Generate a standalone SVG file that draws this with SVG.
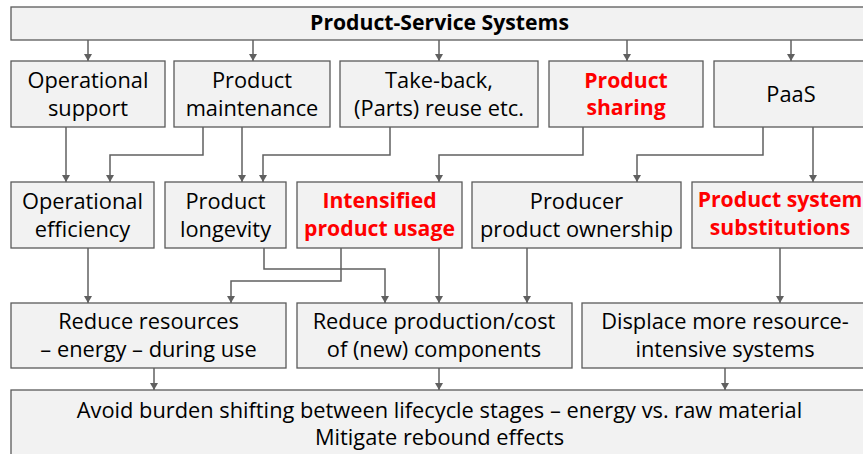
<svg xmlns="http://www.w3.org/2000/svg" width="863" height="454" viewBox="0 0 863 454">
<defs>
<marker id="ah" markerUnits="userSpaceOnUse" markerWidth="10" markerHeight="10" refX="7" refY="4" orient="auto">
<path d="M0,0 L7,4 L0,8 z" fill="#606060"/>
</marker>
<style>
.box{fill:#f2f2f2;stroke:#5a5a5a;stroke-width:1.3}
.t{font-family:"Open Sans","Noto Sans","DejaVu Sans",sans-serif;font-size:21.8px;fill:#000;text-anchor:middle}
.b{font-weight:bold;font-size:21.2px}
.r{fill:#ff0000;font-weight:bold;font-size:21.2px}
.c{fill:none;stroke:#606060;stroke-width:1.5;marker-end:url(#ah)}
</style>
</defs>
<g id="n-pss"><rect class="box" x="11" y="7" width="857" height="33"/><text class="t b" x="439.5" y="30">Product-Service Systems</text></g>
<g id="n-opsupport"><rect class="box" x="11" y="61" width="154" height="66"/><text class="t" x="88" y="88">Operational</text><text class="t" x="88" y="116">support</text></g>
<g id="n-maint"><rect class="box" x="174" y="61" width="156" height="66"/><text class="t" x="252" y="88">Product</text><text class="t" x="252" y="116">maintenance</text></g>
<g id="n-takeback"><rect class="box" x="340" y="61" width="198" height="66"/><text class="t" x="439" y="88">Take-back,</text><text class="t" x="439" y="116">(Parts) reuse etc.</text></g>
<g id="n-sharing"><rect class="box" x="549" y="61" width="154" height="66"/><text class="t r" x="626" y="88">Product</text><text class="t r" x="626" y="115">sharing</text></g>
<g id="n-paas"><rect class="box" x="714" y="61" width="154" height="66"/><text class="t" x="791" y="102">PaaS</text></g>
<g id="n-opeff"><rect class="box" x="11" y="182" width="143" height="66"/><text class="t" x="82.5" y="209">Operational</text><text class="t" x="82.5" y="237">efficiency</text></g>
<g id="n-longevity"><rect class="box" x="165" y="182" width="121" height="66"/><text class="t" x="225.5" y="209">Product</text><text class="t" x="225.5" y="237">longevity</text></g>
<g id="n-intens"><rect class="box" x="297" y="182" width="165" height="66"/><text class="t r" x="379.5" y="208">Intensified</text><text class="t r" x="379.5" y="236">product usage</text></g>
<g id="n-owner"><rect class="box" x="472" y="182" width="209" height="66"/><text class="t" x="576.5" y="209">Producer</text><text class="t" x="576.5" y="237">product ownership</text></g>
<g id="n-subst"><rect class="box" x="692" y="182" width="176" height="66"/><text class="t r" x="780" y="207">Product system</text><text class="t r" x="780" y="235">substitutions</text></g>
<g id="n-reduce"><rect class="box" x="11" y="303" width="275" height="65"/><text class="t" x="148.5" y="329">Reduce resources</text><text class="t" x="148.5" y="357">– energy – during use</text></g>
<g id="n-prodcost"><rect class="box" x="297" y="303" width="275" height="65"/><text class="t" x="434" y="329">Reduce production/cost</text><text class="t" x="434" y="357">of (new) components</text></g>
<g id="n-displace"><rect class="box" x="582" y="303" width="286" height="65"/><text class="t" x="725" y="329">Displace more resource-</text><text class="t" x="725" y="357">intensive systems</text></g>
<g id="n-avoid"><rect class="box" x="11" y="390" width="857" height="70"/><text class="t" x="439.5" y="418">Avoid burden shifting between lifecycle stages – energy vs. raw material</text><text class="t" x="439.5" y="445">Mitigate rebound effects</text></g>
<g id="connectors">
<path class="c" d="M88,40 V61"/>
<path class="c" d="M253,40 V61"/>
<path class="c" d="M439,40 V61"/>
<path class="c" d="M627,40 V61"/>
<path class="c" d="M791,40 V61"/>
<path class="c" d="M66,127 V182"/>
<path class="c" d="M203,127 V155 H110 V182"/>
<path class="c" d="M242,127 V182"/>
<path class="c" d="M390,127 V155 H263 V182"/>
<path class="c" d="M583,127 V155 H439 V182"/>
<path class="c" d="M763,127 V155 H637 V182"/>
<path class="c" d="M813,127 V182"/>
<path class="c" d="M88,248 V303"/>
<path class="c" d="M264,248 V269 H385 V303"/>
<path class="c" d="M341,248 V281 H231 V303"/>
<path class="c" d="M439,248 V303"/>
<path class="c" d="M527,248 V303"/>
<path class="c" d="M780,248 V303"/>
<path class="c" d="M154,368 V390"/>
<path class="c" d="M439,368 V390"/>
<path class="c" d="M725,368 V390"/>
</g>
</svg>
